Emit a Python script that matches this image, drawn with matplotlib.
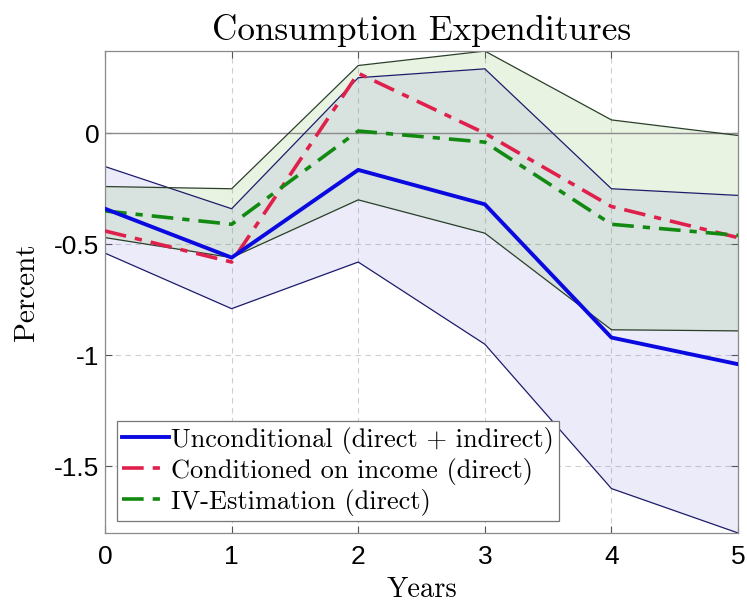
import numpy as np
import matplotlib.pyplot as plt

plt.rcParams['axes.unicode_minus'] = False

# horizon (years)
years = [0, 1, 2, 3, 4, 5]

# point estimates
unconditional = [-0.34, -0.56, -0.165, -0.32, -0.92, -1.04]
cond_income = [-0.44, -0.58, 0.27, 0.0, -0.33, -0.47]
iv_est = [-0.35, -0.41, 0.01, -0.04, -0.41, -0.46]

# confidence bands
unc_upper = [-0.15, -0.34, 0.25, 0.29, -0.25, -0.28]
unc_lower = [-0.54, -0.79, -0.58, -0.95, -1.60, -1.80]
iv_upper = [-0.24, -0.25, 0.305, 0.37, 0.06, -0.01]
iv_lower = [-0.47, -0.56, -0.30, -0.45, -0.885, -0.89]

yticks = [-1.5, -1, -0.5, 0]
yticklabels = ['-1.5', '-1', '-0.5', '0']

serif = 'cmr10'
sans = 'Liberation Sans'

fig = plt.figure(figsize=(7.47, 6.08), dpi=100)
ax = fig.add_axes([0.1406, 0.1234, 0.8474, 0.7926])

# bands
ax.fill_between(years, unc_lower, unc_upper, color='#5050d8', alpha=0.11, lw=0, zorder=1)
ax.plot(years, unc_upper, color='#1c1c6a', lw=0.9, zorder=2)
ax.plot(years, unc_lower, color='#1c1c6a', lw=0.9, zorder=2)
ax.fill_between(years, iv_lower, iv_upper, color='#70b040', alpha=0.15, lw=0, zorder=1.5)
ax.plot(years, iv_upper, color='#2a3f2a', lw=0.9, zorder=2)
ax.plot(years, iv_lower, color='#2a3f2a', lw=0.9, zorder=2)

ax.axhline(0, color='#8c8c8c', lw=1.0, zorder=1.8)

ax.plot(years, unconditional, color='#0a0ae0', lw=2.8, zorder=5,
        label='Unconditional (direct + indirect)')
ax.plot(years, cond_income, color='#e0204c', lw=2.6, ls=(0, (6, 2.5, 2, 2.5)), zorder=4,
        label='Conditioned on income (direct)')
ax.plot(years, iv_est, color='#128a12', lw=2.6, ls=(0, (6, 2.5, 2, 2.5)), zorder=4,
        label='IV-Estimation (direct)')

ax.set_xlim(0, 5)
ax.set_ylim(-1.8, 0.37)
ax.set_xticks(years)
ax.set_xticklabels([str(y) for y in years], fontfamily=sans, fontsize=19)
ax.set_yticks(yticks)
ax.set_yticklabels(yticklabels, fontfamily=sans, fontsize=19)
ax.tick_params(direction='in', length=5, color='#555555', top=True, right=True)
ax.tick_params(axis='x', pad=9)
ax.tick_params(axis='y', pad=4)

ax.grid(True, ls=(0, (5, 4)), color='#cfcfcf', lw=0.8)
ax.set_axisbelow(True)
for s in ax.spines.values():
    s.set_color('#8a8a8a')
    s.set_linewidth(0.9)

ax.set_title('Consumption Expenditures', fontfamily=serif, fontsize=25.3, pad=8)
ax.set_xlabel('Years', fontfamily=serif, fontsize=20.5, labelpad=5)
ax.set_ylabel('Percent', fontfamily=serif, fontsize=21, labelpad=10)

leg = ax.legend(loc='lower left', prop={'family': serif, 'size': 19}, frameon=True,
                fancybox=False, edgecolor='#777777', framealpha=1, handlelength=1.75,
                handletextpad=0.1, borderpad=0.2, labelspacing=0.15, borderaxespad=0,
                bbox_to_anchor=(0.019, 0.025))
leg.get_frame().set_linewidth(0.9)

fig.savefig('out.png', dpi=100)
